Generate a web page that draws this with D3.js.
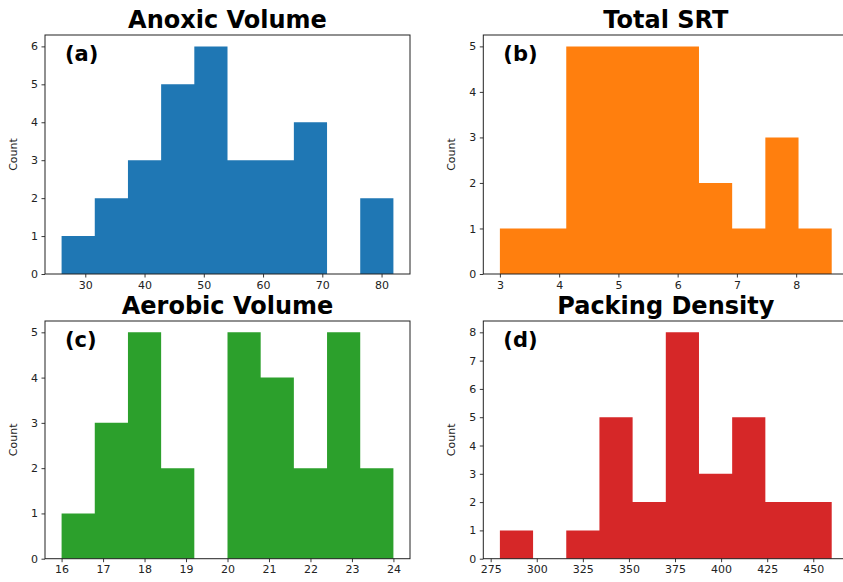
<!DOCTYPE html>
<html>
<head>
<meta charset="utf-8">
<script src="https://cdn.jsdelivr.net/npm/d3@7"></script>
<style>
  html, body { margin: 0; padding: 0; background: #fff; }
  svg { display: block; font-family: "DejaVu Sans", sans-serif; }
</style>
</head>
<body>
<svg id="chart" width="843" height="582"></svg>
<script>
// Histogram bin edges and counts for each variable
const titles = ["Anoxic Volume", "Total SRT", "Aerobic Volume", "Packing Density"];
const panelTags = ["(a)", "(b)", "(c)", "(d)"];
const colors = ["#1f77b4", "#ff7f0e", "#2ca02c", "#d62728"];

const anoxicEdges = [26, 31.6, 37.2, 42.8, 48.4, 54, 59.6, 65.2, 70.8, 76.4, 82];
const anoxicCounts = [1, 2, 3, 5, 6, 3, 3, 4, 0, 2];
const anoxicXTicks = [30, 40, 50, 60, 70, 80];
const anoxicYTicks = [0, 1, 2, 3, 4, 5, 6];

const srtEdges = [3, 3.56, 4.12, 4.68, 5.24, 5.8, 6.36, 6.92, 7.48, 8.04, 8.6];
const srtCounts = [1, 1, 5, 5, 5, 5, 2, 1, 3, 1];
const srtXTicks = [3, 4, 5, 6, 7, 8];
const srtYTicks = [0, 1, 2, 3, 4, 5];

const aerobicEdges = [16, 16.8, 17.6, 18.4, 19.2, 20, 20.8, 21.6, 22.4, 23.2, 24];
const aerobicCounts = [1, 3, 5, 2, 0, 5, 4, 2, 5, 2];
const aerobicXTicks = [16, 17, 18, 19, 20, 21, 22, 23, 24];
const aerobicYTicks = [0, 1, 2, 3, 4, 5];

const packingEdges = [280, 298, 316, 334, 352, 370, 388, 406, 424, 442, 460];
const packingCounts = [1, 0, 1, 5, 2, 8, 3, 5, 2, 2];
const packingXTicks = [275, 300, 325, 350, 375, 400, 425, 450];
const packingYTicks = [0, 1, 2, 3, 4, 5, 6, 7, 8];

const panels = [
  { edges: anoxicEdges, counts: anoxicCounts, xTicks: anoxicXTicks, yTicks: anoxicYTicks },
  { edges: srtEdges, counts: srtCounts, xTicks: srtXTicks, yTicks: srtYTicks },
  { edges: aerobicEdges, counts: aerobicCounts, xTicks: aerobicXTicks, yTicks: aerobicYTicks },
  { edges: packingEdges, counts: packingCounts, xTicks: packingXTicks, yTicks: packingYTicks }
];

// Grid geometry (2 x 2)
const colLeft = [45, 483.3];
const rowTop = [35, 321];
const axW = 365;
const axH = [239, 237.7];

const svg = d3.select("#chart");

panels.forEach((p, i) => {
  const col = i % 2, row = Math.floor(i / 2);
  const x0 = colLeft[col], y0 = rowTop[row], h = axH[row];
  const g = svg.append("g").attr("transform", `translate(${x0},${y0})`);

  const lo = p.edges[0], hi = p.edges[p.edges.length - 1];
  const pad = (hi - lo) * 0.05;
  const x = d3.scaleLinear().domain([lo - pad, hi + pad]).range([0, axW]);
  const y = d3.scaleLinear().domain([0, d3.max(p.counts) * 1.05]).range([h, 0]);

  // Each histogram is one stepped area so neighbouring bins join without seams
  const steps = p.edges.map((e, k) => ({ e, c: k < p.counts.length ? p.counts[k] : p.counts[k - 1] }));
  const area = d3.area()
    .curve(d3.curveStepAfter)
    .x(d => x(d.e))
    .y0(y(0))
    .y1(d => y(d.c));
  g.append("path")
    .datum(steps)
    .attr("d", area)
    .attr("fill", colors[i]);

  const xAxis = g.append("g").attr("transform", `translate(0,${h})`)
    .call(d3.axisBottom(x).tickValues(p.xTicks).tickFormat(d3.format("d")).tickSize(3.5).tickPadding(3.5));
  const yAxis = g.append("g")
    .call(d3.axisLeft(y).tickValues(p.yTicks).tickFormat(d3.format("d")).tickSize(3.5).tickPadding(3.5));
  [xAxis, yAxis].forEach(a => {
    a.select(".domain").remove();
    a.selectAll(".tick line").attr("stroke", "#222").attr("stroke-width", 0.9);
    a.selectAll(".tick text").attr("fill", "#222")
      .style("font-family", "'DejaVu Sans', sans-serif").style("font-size", "11px");
  });

  // Frame around the plotting area
  g.append("rect").attr("x", 0).attr("y", 0).attr("width", axW).attr("height", h)
    .attr("fill", "none").attr("stroke", "#222").attr("stroke-width", 1);

  // Y label
  g.append("text")
    .attr("transform", `translate(${-28},${h / 2}) rotate(-90)`)
    .attr("text-anchor", "middle")
    .attr("fill", "#222")
    .style("font-size", "11px")
    .text("Count");

  // Title
  g.append("text")
    .attr("x", axW / 2).attr("y", -7)
    .attr("text-anchor", "middle")
    .attr("fill", "#000")
    .style("font-size", "24px").style("font-weight", "bold")
    .text(titles[i]);

  // Panel tag
  g.append("text")
    .attr("x", 20).attr("y", 26)
    .attr("fill", "#000")
    .style("font-size", "21px").style("font-weight", "bold")
    .text(panelTags[i]);
});
</script>
</body>
</html>
